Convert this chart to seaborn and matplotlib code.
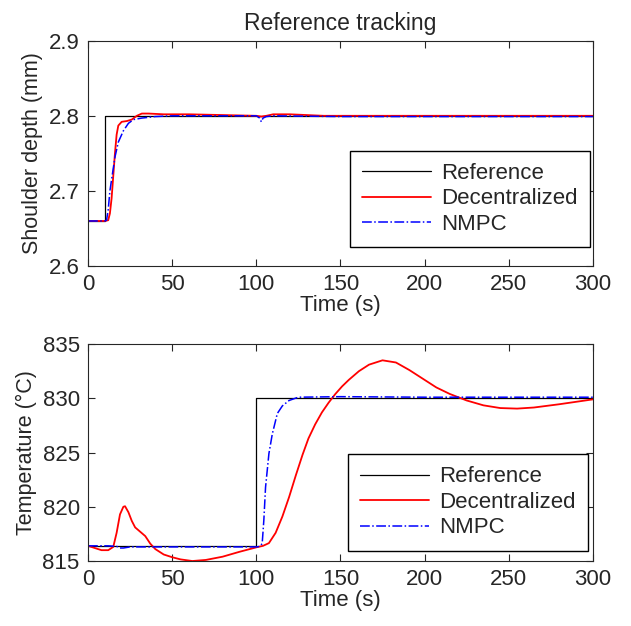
import matplotlib
matplotlib.use("Agg")
import matplotlib.pyplot as plt
import seaborn as sns

# --- top panel: shoulder depth (mm) ---
t_ref_top = [0, 10, 10, 300]
ref_top = [2.66, 2.66, 2.80, 2.80]

t_dec_top = [0, 10, 12, 13, 14, 15, 16, 17, 18, 20, 23, 26, 29, 32, 36, 45, 60, 80,
             100, 103, 106, 110, 120, 130, 140, 160, 200, 250, 300]
dec_top = [2.66, 2.66, 2.661, 2.67, 2.69, 2.72, 2.75, 2.775, 2.787, 2.792, 2.793, 2.795,
           2.800, 2.803, 2.803, 2.802, 2.802, 2.801, 2.800, 2.799, 2.800, 2.802, 2.802,
           2.801, 2.800, 2.800, 2.800, 2.800, 2.800]

t_nmpc_top = [0, 10, 11, 12, 13, 14, 16, 18, 21, 24, 27, 32, 40, 50, 100, 102, 103,
              104, 106, 110, 150, 200, 300]
nmpc_top = [2.66, 2.66, 2.661, 2.675, 2.70, 2.715, 2.745, 2.765, 2.78, 2.79, 2.795,
            2.797, 2.799, 2.800, 2.800, 2.797, 2.792, 2.797, 2.799, 2.800, 2.799,
            2.799, 2.799]

# --- bottom panel: temperature (deg C) ---
t_ref_bot = [0, 100, 100, 300]
ref_bot = [816.4, 816.4, 830.0, 830.0]

t_dec_bot = [0, 4, 8, 12, 15, 17, 19, 21, 22, 24, 26, 28, 31, 34, 37, 40, 45, 50,
             55, 62, 70, 80, 90, 100, 104, 107.5, 111.5, 115.5, 119.5, 123.5, 127.5,
             131, 135, 139, 143, 147, 151, 155, 161, 167, 175, 183, 191, 199, 207,
             215, 225, 235, 245, 255, 265, 280, 300]
dec_bot = [816.4, 816.2, 816.0, 816.0, 816.3, 817.6, 819.3, 820.0, 820.05, 819.5,
           818.7, 818.1, 817.7, 817.3, 816.6, 816.1, 815.6, 815.35, 815.15, 815.0,
           815.1, 815.4, 815.85, 816.26, 816.4, 816.65, 817.6, 819.1, 820.9, 822.9,
           824.8, 826.3, 827.6, 828.7, 829.6, 830.4, 831.1, 831.7, 832.5, 833.1,
           833.5, 833.3, 832.6, 831.8, 831.0, 830.4, 829.8, 829.35, 829.1, 829.05,
           829.15, 829.45, 829.9]

t_nmpc_bot = [0, 12, 17, 19, 21, 25, 60, 100, 102, 103.5, 104.5, 105.5, 107.5, 109.5,
              112.5, 115.5, 119.5, 125, 150, 200, 300]
nmpc_bot = [816.4, 816.4, 816.35, 816.2, 816.2, 816.3, 816.3, 816.3, 816.35, 816.6,
            818.8, 821.8, 824.9, 826.7, 828.6, 829.3, 829.8, 830.1, 830.15, 830.1,
            830.1]

series_names = ["Reference", "Decentralized", "NMPC"]

sns.set_style("ticks")
plt.rcParams["font.family"] = ["Liberation Sans", "DejaVu Sans"]
plt.rcParams["xtick.direction"] = "in"
plt.rcParams["ytick.direction"] = "in"
plt.rcParams["xtick.top"] = True
plt.rcParams["ytick.right"] = True

fig = plt.figure(figsize=(6.31, 6.26), dpi=100)
ax1 = fig.add_axes([0.1395, 0.575, 0.800, 0.36])
ax2 = fig.add_axes([0.1395, 0.1038, 0.800, 0.3466])


def draw(ax, tr, r, td, d, tn, n):
    sns.lineplot(x=tr, y=r, ax=ax, color="black", lw=0.9, estimator=None,
                 label=series_names[0])
    sns.lineplot(x=td, y=d, ax=ax, color="red", lw=1.3, estimator=None,
                 label=series_names[1])
    sns.lineplot(x=tn, y=n, ax=ax, color="blue", lw=1.1, linestyle="-.",
                 estimator=None, label=series_names[2])
    ax.set_xlim(0, 300)
    ax.set_xticks(range(0, 301, 50))
    ax.set_xlabel("Time (s)", fontsize=16, labelpad=0)
    ax.tick_params(labelsize=16, length=5, width=0.8, pad=6)
    for s in ax.spines.values():
        s.set_linewidth(0.8)


def add_legend(ax, x1, y0):
    ax.legend(loc="lower right", bbox_to_anchor=(x1, y0), fontsize=16,
              handlelength=3.1, handletextpad=0.45, frameon=True, fancybox=False,
              edgecolor="black", framealpha=1, borderpad=0.55, labelspacing=0.2,
              borderaxespad=0)


draw(ax1, t_ref_top, ref_top, t_dec_top, dec_top, t_nmpc_top, nmpc_top)
ax1.set_ylim(2.6, 2.9)
ax1.set_yticks([2.6, 2.7, 2.8, 2.9])
ax1.set_ylabel("Shoulder depth (mm)", fontsize=15.5, labelpad=4)
ax1.set_title("Reference tracking", fontsize=16.5, pad=8)
add_legend(ax1, 0.994, 0.084)

draw(ax2, t_ref_bot, ref_bot, t_dec_bot, dec_bot, t_nmpc_bot, nmpc_bot)
ax2.set_ylim(815, 835)
ax2.set_yticks([815, 820, 825, 830, 835])
ax2.set_ylabel("Temperature (°C)", fontsize=15.5, labelpad=4)
add_legend(ax2, 0.99, 0.048)

fig.savefig("out.png", dpi=100)
